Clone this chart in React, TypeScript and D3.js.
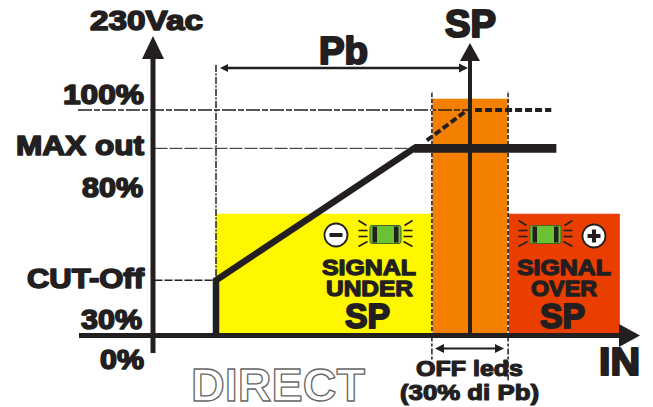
import React from "react";
import * as d3 from "d3";

// --- data (IN in % of Pb, with SP = 100; output in %) ---
const bandStart = 0;
const offLow = 85;
const spValue = 100;
const offHigh = 115;
const overEnd = 159;
const inMin = -25;
const outMax = 83;
const outFull = 100;
const outCut = 24.5;
const zoneTop = 54;
const offTop = 105;
const riseCurve: [number, number][] = [[bandStart, 0], [bandStart, outCut], [78, outMax], [80, outMax]];
const maxCurve: [number, number][] = [[78, outMax], [134, outMax]];
const dashedRise: [number, number][] = [[83, 86.5], [99, outFull]];
const dashedFull: [number, number][] = [[102, outFull], [132, outFull]];
const yLabels = ["100%", "MAX out", "80%", "CUT-Off", "30%", "0%"];
const signalUnder = ["SIGNAL", "UNDER", "SP"];
const signalOver = ["SIGNAL", "OVER", "SP"];

const W = 653, H = 407;
const x = d3.scaleLinear().domain([bandStart, spValue]).range([216, 470]);
const y = d3.scaleLinear().domain([0, outFull]).range([335.5, 110]);
const INK = "#231f20";
const FONT = "'Liberation Sans', Arial, sans-serif";
const lineGen = d3.line<[number, number]>().x(d => x(d[0])).y(d => y(d[1]));

function T({ s, x0, x1, base, size, sw = 1, fill = INK, stroke = INK }: any) {
  return (
    <text x={x0} y={base} fontFamily={FONT} fontWeight={700} fontSize={size}
      textLength={x1 - x0} lengthAdjust="spacingAndGlyphs"
      fill={fill} stroke={stroke} strokeWidth={sw} strokeLinejoin="round">{s}</text>
  );
}

function Led({ cx, cy }: { cx: number; cy: number }) {
  const rays = [-1, 1].flatMap(side => [
    [side * 19, -9, side * 27, -14],
    [side * 18, -4, side * 27, -4],
    [side * 18, 2, side * 27, 2],
    [side * 18, 7, side * 27, 12],
  ]);
  return (
    <g transform={`translate(${cx},${cy})`}>
      {rays.map((r, i) => <line key={i} x1={r[0]} y1={r[1]} x2={r[2]} y2={r[3]} stroke={INK} strokeWidth={1.6} />)}
      <rect x={-15.5} y={-9} width={31} height={18} rx={2} fill="#6cc133" stroke="#3f6b22" strokeWidth={1} />
      <rect x={-13} y={-8} width={4.5} height={16} fill={INK} />
      <rect x={8.5} y={-8} width={4.5} height={16} fill={INK} />
    </g>
  );
}

function Sign({ cx, cy, plus }: { cx: number; cy: number; plus?: boolean }) {
  return (
    <g>
      <circle cx={cx} cy={cy} r={11.5} fill="#fff" stroke={INK} strokeWidth={1.8} />
      <rect x={cx - 6.5} y={cy - 2} width={13} height={4} fill={INK} />
      {plus && <rect x={cx - 2} y={cy - 6.5} width={4} height={13} fill={INK} />}
    </g>
  );
}

function Tri({ pts }: { pts: number[][] }) {
  return <polygon points={pts.map(p => p.join(",")).join(" ")} fill={INK} />;
}

export default function App() {
  const x0 = x(inMin), xB = x(bandStart), xL = x(offLow), xS = x(spValue), xH = x(offHigh), xE = x(overEnd);
  const y0 = y(0), yF = y(outFull), yM = y(outMax), yC = y(outCut), yZ = y(zoneTop), yO = y(offTop);
  return (
    <svg width={W} height={H} viewBox={`0 0 ${W} ${H}`}
      style={{ position: "absolute", left: 0, top: 0, background: "#fff" }}>
      <rect x={xB} y={yZ} width={xL - xB} height={y0 - yZ} fill="#fff700" />
      <rect x={xL} y={yO} width={xH - xL} height={y0 - yO} fill="#f58000" />
      <rect x={xH} y={yZ} width={xE - xH} height={y0 - yZ} fill="#ea3e00" />

      {/* guide lines */}
      <line x1={78} x2={xS} y1={yF} y2={yF} stroke={INK} strokeWidth={1.5} strokeDasharray="14 2 6 2" />
      <line x1={x0 + 2} x2={x(78)} y1={yM} y2={yM} stroke={INK} strokeWidth={1} strokeDasharray="13 2" />
      <line x1={x0 + 2} x2={xB} y1={yC} y2={yC} stroke={INK} strokeWidth={1.3} strokeDasharray="8 2" />
      <line x1={xB} x2={xB} y1={65} y2={yC} stroke={INK} strokeWidth={1.5} strokeDasharray="7 1.5 2 1.5" />
      {[xL, xH].map((vx, i) => (
        <g key={i}>
          <line x1={vx} x2={vx} y1={91} y2={y0} stroke={INK} strokeWidth={1.5} />
          <line x1={vx} x2={vx} y1={91} y2={y0} stroke="#fff" strokeWidth={1.5} strokeDasharray="2 4" />
          <line x1={vx} x2={vx} y1={y0} y2={i ? 381 : 361} stroke={INK} strokeWidth={1.5} strokeDasharray="6 2 3 2" />
        </g>
      ))}

      {/* curve */}
      <path d={lineGen(dashedRise) ?? ""} fill="none" stroke={INK} strokeWidth={4} strokeDasharray="7 3" />
      <path d={lineGen(dashedFull) ?? ""} fill="none" stroke={INK} strokeWidth={4} strokeDasharray="7 3" />
      <path d={lineGen(riseCurve) ?? ""} fill="none" stroke={INK} strokeWidth={6.5} strokeLinejoin="miter" />
      <path d={lineGen(maxCurve) ?? ""} fill="none" stroke={INK} strokeWidth={8.7} />

      {/* axes */}
      <line x1={153} x2={153} y1={56} y2={353} stroke={INK} strokeWidth={5} />
      <Tri pts={[[153, 36], [142, 59], [164, 59]]} />
      <line x1={79} x2={622} y1={y0} y2={y0} stroke={INK} strokeWidth={5} />
      <Tri pts={[[640, y0], [619, 324], [619, 347]]} />
      <line x1={xS} x2={xS} y1={58} y2={y0} stroke={INK} strokeWidth={4} />
      <Tri pts={[[xS, 43], [xS - 10, 61], [xS + 10, 61]]} />

      {/* Pb arrow */}
      <line x1={224} x2={462} y1={68} y2={68} stroke={INK} strokeWidth={2.6} />
      <Tri pts={[[xB + 4, 68], [xB + 12, 64], [xB + 12, 72]]} />
      <Tri pts={[[468, 68], [459, 63.5], [459, 72.5]]} />

      {/* OFF arrow */}
      <line x1={442} x2={498} y1={348.5} y2={348.5} stroke={INK} strokeWidth={2} />
      <Tri pts={[[435, 348.5], [444, 344], [444, 353]]} />
      <Tri pts={[[504, 348.5], [495, 344], [495, 353]]} />

      {/* labels */}
      <T s="230Vac" x0={90} x1={203} base={30} size={28} sw={1.6} />
      <T s="Pb" x0={319} x1={368} base={64} size={38} sw={2.2} />
      <T s="SP" x0={445} x1={496} base={37} size={38} sw={2.2} />
      <T s={yLabels[0]} x0={63} x1={144} base={103.5} size={28} sw={1.6} />
      <T s={yLabels[1]} x0={16} x1={144} base={154.5} size={28} sw={1.6} />
      <T s={yLabels[2]} x0={82} x1={143} base={196.5} size={28} sw={1.6} />
      <T s={yLabels[3]} x0={27} x1={144} base={287.5} size={28} sw={1.6} />
      <T s={yLabels[4]} x0={81} x1={142} base={328.5} size={28} sw={1.6} />
      <T s={yLabels[5]} x0={100} x1={144} base={368.5} size={28} sw={1.6} />
      <T s="IN" x0={599} x1={640} base={375} size={38} sw={2.2} />

      <T s={signalUnder[0]} x0={322} x1={416} base={274.5} size={22} sw={1.3} />
      <T s={signalUnder[1]} x0={326} x1={413} base={295.5} size={22} sw={1.3} />
      <T s={signalUnder[2]} x0={345} x1={390} base={328} size={35} sw={2} />
      <T s={signalOver[0]} x0={517} x1={611} base={274.5} size={22} sw={1.3} />
      <T s={signalOver[1]} x0={531} x1={597} base={295.5} size={22} sw={1.3} />
      <T s={signalOver[2]} x0={540} x1={585} base={328} size={35} sw={2} />

      <T s="OFF leds" x0={416} x1={523} base={375.5} size={22} sw={1.2} />
      <T s="(30% di Pb)" x0={400} x1={539} base={399.5} size={22} sw={1.2} />
      <T s="DIRECT" x0={191} x1={365} base={401} size={46} sw={1.3} fill="#fff" stroke="#666" />

      <Sign cx={336} cy={235} />
      <Led cx={385.5} cy={234.5} />
      <Led cx={545.5} cy={234.5} />
      <Sign cx={594} cy={236} plus />
    </svg>
  );
}
